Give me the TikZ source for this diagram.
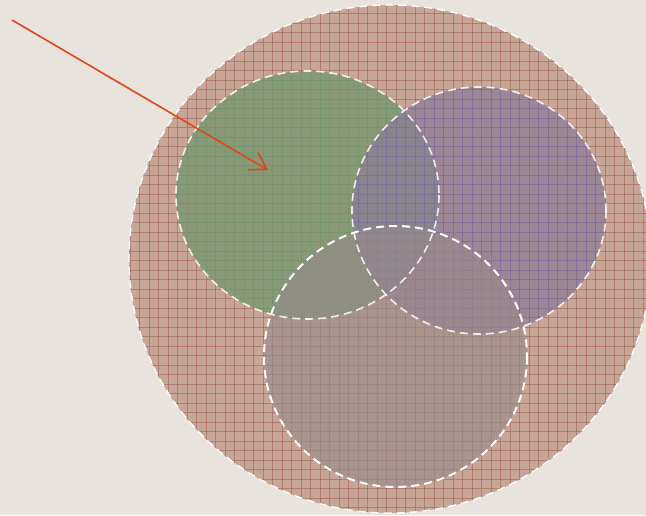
\documentclass[tikz,border=0pt]{standalone}
\usepackage{xcolor}
\usetikzlibrary{arrows.meta}
\definecolor{paper}{RGB}{232,228,221}
\definecolor{clay}{RGB}{200,166,151}
\definecolor{clayline}{RGB}{160,98,88}
\definecolor{sage}{RGB}{118,150,110}
\definecolor{sageline}{RGB}{100,158,104}
\definecolor{mauve}{RGB}{140,124,152}
\definecolor{mauveline}{RGB}{108,100,165}
\definecolor{stone}{RGB}{152,138,138}
\definecolor{arrowred}{RGB}{222,72,24}
\tikzset{
  rim/.style={draw=white,line width=1.6pt,dash pattern=on 8pt off 5pt},
  gridline/.style={line width=0.65pt},
  pointer/.style={-{Straight Barb[length=16pt,width=20pt]},line width=1.6pt,draw=arrowred}
}

\begin{document}
\begin{tikzpicture}[x=1pt,y=-1pt]

\useasboundingbox[fill=paper] (0,0) rectangle (646,515);
\clip (0,0) rectangle (646,515);

% outer set
\coordinate (outerC) at (390,259);
\fill[clay] (outerC) ellipse [x radius=261,y radius=254];
\begin{scope}
  \clip (outerC) ellipse [x radius=261,y radius=254];
  \foreach \x in {130,139.5,...,650}{
    \draw[gridline,draw=clayline,opacity=0.6] (\x,0)--(\x,515);
  }
  \foreach \y in {4,13.5,...,515}{
    \draw[gridline,draw=clayline,opacity=0.6] (0,\y)--(646,\y);
  }
\end{scope}

% green set
\coordinate (greenC) at (307.5,195);
\fill[sage,opacity=0.78] (greenC) ellipse [x radius=131.5,y radius=124];
\begin{scope}
  \clip (greenC) ellipse [x radius=131.5,y radius=124];
  \foreach \x in {130,139.5,...,650}{
    \draw[gridline,draw=sageline,opacity=0.4] (\x,0)--(\x,515);
  }
  \foreach \y in {4,13.5,...,515}{
    \draw[gridline,draw=sageline,opacity=0.4] (0,\y)--(646,\y);
  }
\end{scope}

% purple set
\coordinate (purpleC) at (479,210.5);
\fill[mauve,opacity=0.72] (purpleC) ellipse [x radius=127,y radius=123.5];
\begin{scope}
  \clip (purpleC) ellipse [x radius=127,y radius=123.5];
  \foreach \x in {130,139.5,...,650}{
    \draw[gridline,draw=mauveline,opacity=0.4] (\x,0)--(\x,515);
  }
  \foreach \y in {4,13.5,...,515}{
    \draw[gridline,draw=mauveline,opacity=0.4] (0,\y)--(646,\y);
  }
\end{scope}

% bottom set
\coordinate (lowC) at (395.5,356.5);
\fill[stone,opacity=0.62] (lowC) ellipse [x radius=131.5,y radius=130.5];

\draw[rim,line width=1.3pt] (outerC) ellipse [x radius=261,y radius=254];
\draw[rim,draw opacity=0.85] (greenC) ellipse [x radius=131.5,y radius=124];
\draw[rim,draw opacity=0.85] (purpleC) ellipse [x radius=127,y radius=123.5];
\draw[rim,line width=2pt] (lowC) ellipse [x radius=131.5,y radius=130.5];

% arrow
\coordinate (tail) at (12,20);
\coordinate (head) at (268,170);
\draw[pointer] (tail) -- (head);

\end{tikzpicture}
\end{document}
